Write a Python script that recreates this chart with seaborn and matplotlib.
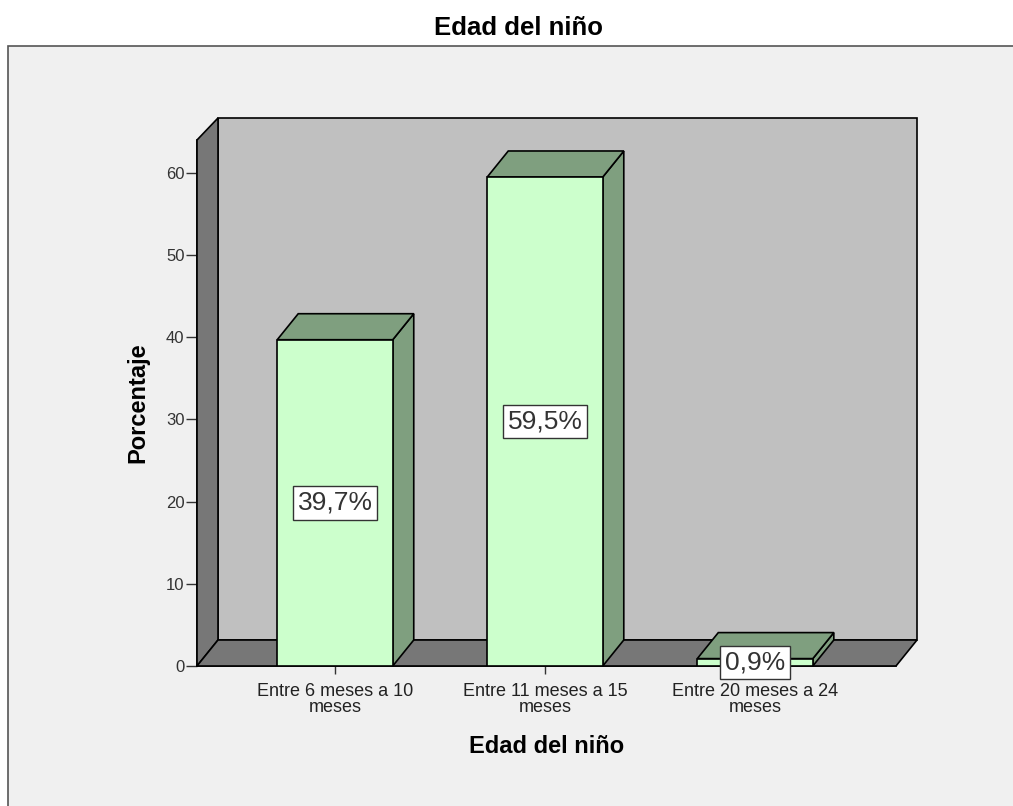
import numpy as np
import pandas as pd
import seaborn as sns
import matplotlib
matplotlib.use("Agg")
import matplotlib.pyplot as plt
from matplotlib.patches import Polygon, Rectangle
from matplotlib.transforms import IdentityTransform

categories = ["Entre 6 meses a 10\nmeses", "Entre 11 meses a 15\nmeses", "Entre 20 meses a 24\nmeses"]
values = [39.7, 59.5, 0.9]
value_labels = ["39,7%", "59,5%", "0,9%"]
yticks = [0, 10, 20, 30, 40, 50, 60]
title = "Edad del niño"
xlabel = "Edad del niño"
ylabel = "Porcentaje"

sns.set_style("white")
plt.rcParams["font.family"] = ["Liberation Sans", "DejaVu Sans"]

W, H = 1013, 806
fig = plt.figure(figsize=(W / 100, H / 100), dpi=100, facecolor="white")

# outer panel
fig.patches.append(Rectangle((8 / W, -0.01), 1.0, 1 - 46 / H + 0.01, transform=fig.transFigure,
                             facecolor="#f0f0f0", edgecolor="#555555", linewidth=1.2, zorder=-5))
fig.text(518 / W, 1 - 28 / H, title, ha="center", va="center", fontsize=18.5, fontweight="bold",
         color="black")

ax = fig.add_axes([197 / W, 1 - 666 / H, (896 - 197) / W, (666 - 140) / H])
ax.set_zorder(5)
ax.set_facecolor("none")

df = pd.DataFrame({"cat": categories, "val": values})
sns.barplot(data=df, x="cat", y="val", color="#ccffcc", edgecolor="black", linewidth=1.2,
            width=0.55, saturation=1, ax=ax, zorder=5)
bars = list(ax.patches)

ax.set_xlim(-0.657, 2.671)
ax.set_ylim(0, 64)
ax.set_yticks(yticks)
ax.set_xlabel(xlabel, fontsize=17, fontweight="bold", labelpad=14, color="black")
ax.set_ylabel(ylabel, fontsize=17, fontweight="bold", labelpad=12, color="black")
for s in ["top", "right"]:
    ax.spines[s].set_visible(False)
for s in ["left", "bottom"]:
    ax.spines[s].set_color("black")
    ax.spines[s].set_linewidth(1.2)
    ax.spines[s].set_zorder(1)
ax.tick_params(axis="y", direction="out", length=8, width=1, color="#333333", labelsize=12,
               labelcolor="#333333", left=True, pad=1)
ax.tick_params(axis="x", direction="out", length=6, width=1, color="#333333", labelsize=13,
               labelcolor="#222222", bottom=True, pad=6)
for t in ax.get_xticklabels():
    t.set_linespacing(0.95)

fig.canvas.draw()
DX, DY = 21, 26


def pt(x, y, d=0, extra_dy=0):
    px, py = ax.transData.transform((x, y))
    return (px + d * DX, py + d * DY + extra_dy)


def poly(pts, fc, z):
    p = Polygon(pts, closed=True, facecolor=fc, edgecolor="black", linewidth=1.2,
                transform=IdentityTransform(), clip_on=False, zorder=z)
    ax.add_artist(p)


xl, xr = ax.get_xlim()
yt = ax.get_ylim()[1]
# back wall
poly([pt(xl, 0, 1), pt(xr, 0, 1), pt(xr, yt, 1, -4), pt(xl, yt, 1, -4)], "#c0c0c0", 1)
# left wall
poly([pt(xl, 0), pt(xl, yt), pt(xl, yt, 1, -4), pt(xl, 0, 1)], "#777777", 2)
# floor
poly([pt(xl, 0), pt(xr, 0), pt(xr, 0, 1), pt(xl, 0, 1)], "#777777", 2)

side = "#7f9f7f"
for p in bars:
    x0 = p.get_x()
    x1 = x0 + p.get_width()
    h = p.get_height()
    poly([pt(x1, 0), pt(x1, h), pt(x1, h, 1), pt(x1, 0, 1)], side, 4)
    poly([pt(x0, h), pt(x1, h), pt(x1, h, 1), pt(x0, h, 1)], side, 4)

for i, (v, lab) in enumerate(zip(values, value_labels)):
    ax.text(i, v / 2, lab, ha="center", va="center", fontsize=19, color="#333333", zorder=10,
            clip_on=False,
            bbox=dict(boxstyle="square,pad=0.18", facecolor="white", edgecolor="#333333", linewidth=1.0))

fig.savefig("out.png", dpi=100, facecolor="white")
